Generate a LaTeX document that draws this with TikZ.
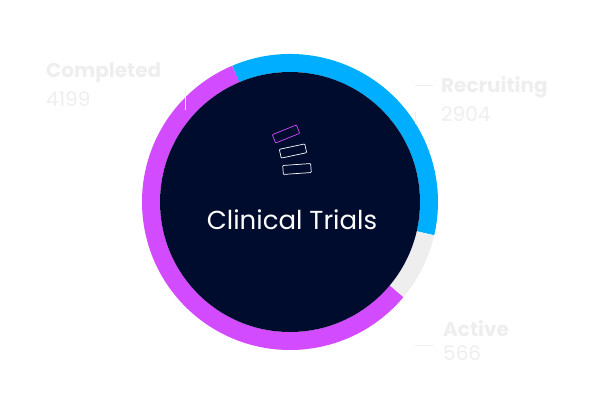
\documentclass[tikz,border=0pt]{standalone}
\usepackage{fontspec}
\setmainfont{Poppins}
\usetikzlibrary{positioning,calc}
\definecolor{navy}{HTML}{000C2E}
\definecolor{sky}{HTML}{00AEFF}
\definecolor{violet}{HTML}{D24BFF}
\definecolor{pale}{HTML}{EEEEEE}
\tikzset{
  seg/.style={line width=18pt},
  heading/.style={text=pale, font=\fontsize{20}{22}\selectfont\bfseries, inner sep=0pt, anchor=north west},
  count/.style={text=pale, font=\fontsize{20}{22}\selectfont, inner sep=0pt, anchor=north west},
  leader/.style={draw=pale, line width=0.6pt},
  bar/.style={draw, line width=0.7pt, rounded corners=0.8pt}
}
\begin{document}
\begin{tikzpicture}[x=1pt, y=1pt]
  \useasboundingbox (0,0) rectangle (600,400);
  \coordinate (hub) at (290,198);
  % ring segments
  \draw[seg, sky] ($(hub)+(113:139)$) arc (113:-13:139);
  \draw[seg, pale] ($(hub)+(-13:139)$) arc (-13:-40:139);
  \draw[seg, violet] ($(hub)+(-40:139)$) arc (-40:-247:139);
  \fill[navy] (hub) circle (130);
  % logo
  \node[bar, violet, minimum width=26pt, minimum height=9pt, rotate=22] (barA) at (286,266) {};
  \node[bar, white, minimum width=26pt, minimum height=9pt, rotate=12] (barB) at (293,249) {};
  \node[bar, white, minimum width=28pt, minimum height=9pt, rotate=4] (barC) at (297,231) {};
  \node[text=white, font=\fontsize{26}{30}\selectfont] (title) at (292,180) {Clinical Trials};
  % labels
  \node[heading] (completed) at (46,338) {Completed};
  \node[count, below=9pt of completed.south west, anchor=north west] (ncompleted) {4199};
  \node[heading] (recruiting) at (441,324) {Recruiting};
  \node[count, below=9pt of recruiting.south west, anchor=north west] (nrecruiting) {2904};
  \node[heading] (active) at (443,80) {Active};
  \node[count, below=9pt of active.south west, anchor=north west] (nactive) {566};
  % leaders
  \coordinate (cA) at (185,310); \coordinate (cB) at (185,290);
  \coordinate (rA) at (415,315); \coordinate (rB) at (433,315);
  \coordinate (rC) at (415,288); \coordinate (rD) at (415,276);
  \coordinate (aA) at (413,135); \coordinate (aB) at (413,115);
  \coordinate (aC) at (415,55); \coordinate (aD) at (433,55);
  \path[leader] (cA) -- (cB);
  \path[leader] (rA) -- (rB);
  \path[leader] (rC) -- (rD);
  \path[leader] (aA) -- (aB);
  \path[leader] (aC) -- (aD);
\end{tikzpicture}
\end{document}
